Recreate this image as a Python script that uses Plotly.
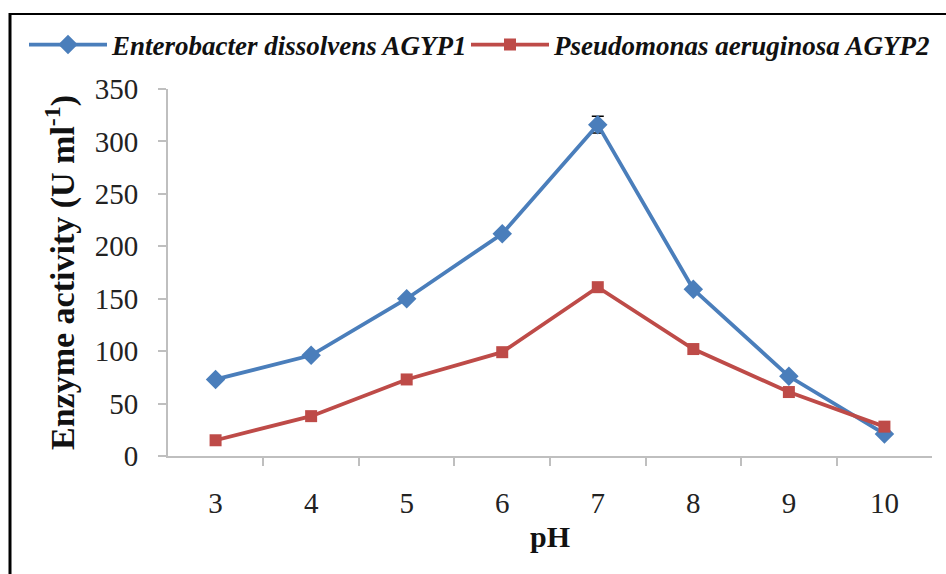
import plotly.graph_objects as go

ph = ["3", "4", "5", "6", "7", "8", "9", "10"]
enterobacter = [73, 96, 150, 212, 316, 159, 76, 21]
enterobacter_err = [0, 0, 0, 0, 8, 0, 0, 0]
pseudomonas = [15, 38, 73, 99, 161, 102, 61, 28]
y_ticks = [0, 50, 100, 150, 200, 250, 300, 350]

blue = "#4a7ebb"
red = "#be4b48"
serif = "Liberation Serif, Times New Roman, serif"

fig = go.Figure()
fig.add_trace(go.Scatter(
    x=ph, y=enterobacter, mode="lines+markers",
    name="<b><i>Enterobacter dissolvens AGYP1</i></b>",
    line=dict(color=blue, width=3.8),
    marker=dict(symbol="diamond", size=15, color=blue),
    error_y=dict(type="data", array=enterobacter_err, visible=True,
                 color="black", thickness=1.5, width=6),
    legend="legend",
))
fig.add_trace(go.Scatter(
    x=ph, y=pseudomonas, mode="lines+markers",
    name="<b><i>Pseudomonas aeruginosa AGYP2</i></b>",
    line=dict(color=red, width=3.8),
    marker=dict(symbol="square", size=12, color=red),
    legend="legend2",
))

L, R, T, B = 168, 14, 89, 118
W, H = 946, 574
pw, ph_ = W - L - R, H - T - B

def px_x(x):
    return (x - L) / pw

def px_y(y):
    return (H - B - y) / ph_

leg_common = dict(
    orientation="h", y=px_y(45), xanchor="left", yanchor="middle",
    font=dict(family=serif, size=27, color="#111111"),
    itemwidth=78, bgcolor="rgba(0,0,0,0)",
)

fig.update_layout(
    width=W, height=H,
    margin=dict(l=L, r=R, t=T, b=B, autoexpand=False),
    paper_bgcolor="white", plot_bgcolor="white",
    font=dict(family=serif, color="#222222", size=24),
    showlegend=True,
    legend=dict(x=px_x(24), **leg_common),
    legend2=dict(x=px_x(466), **leg_common),
    xaxis=dict(
        type="category", tickson="boundaries",
        showline=True, linecolor="#bfbfbf", linewidth=2,
        ticks="outside", ticklen=8, tickcolor="#bfbfbf", tickwidth=2,
        showgrid=False, zeroline=False,
        tickfont=dict(family=serif, size=29, color="#222222"),
        ticklabelstandoff=20,
        title=dict(text="<b>pH</b>", font=dict(family=serif, size=30, color="#111111"), standoff=8),
    ),
    yaxis=dict(
        range=[0, 350], tickvals=y_ticks,
        showline=True, linecolor="#bfbfbf", linewidth=2,
        ticks="outside", ticklen=8, tickcolor="#bfbfbf", tickwidth=2,
        showgrid=False, zeroline=False,
        tickfont=dict(family=serif, size=29, color="#222222"),
        ticklabelstandoff=14,
        title=dict(text="<b>Enzyme activity (U ml<sup>-1</sup>)</b>",
                   font=dict(family=serif, size=34, color="#111111"), standoff=10),
    ),
    shapes=[
        dict(type="line", xref="paper", yref="paper",
             x0=px_x(10), x1=px_x(10), y0=px_y(13), y1=px_y(580),
             line=dict(color="black", width=3)),
        dict(type="line", xref="paper", yref="paper",
             x0=px_x(9), x1=px_x(950), y0=px_y(14), y1=px_y(14),
             line=dict(color="black", width=2)),
    ],
)

fig.write_html("out.html")
